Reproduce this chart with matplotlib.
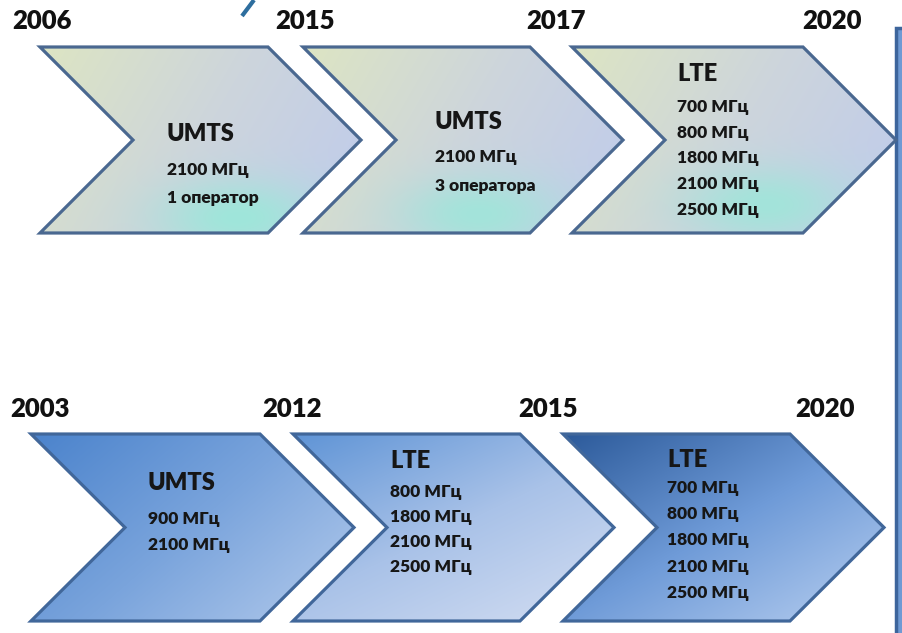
import matplotlib.pyplot as plt
import numpy as np
from matplotlib.patches import Polygon, Rectangle
from matplotlib.colors import to_rgb

plt.rcParams['font.family'] = ['Lato', 'DejaVu Sans']

W, H = 903, 633

# ---- content ----
years_top = ['2006', '2015', '2017', '2020']
years_bottom = ['2003', '2012', '2015', '2020']

titles_top = ['UMTS', 'UMTS', 'LTE']
lines_top = [['2100 МГц', '1 оператор'],
             ['2100 МГц', '3 оператора'],
             ['700 МГц', '800 МГц', '1800 МГц', '2100 МГц', '2500 МГц']]

titles_bottom = ['UMTS', 'LTE', 'LTE']
lines_bottom = [['900 МГц', '2100 МГц'],
                ['800 МГц', '1800 МГц', '2100 МГц', '2500 МГц'],
                ['700 МГц', '800 МГц', '1800 МГц', '2100 МГц', '2500 МГц']]

# ---- layout (pixels, y down) ----
top_row = dict(y0=47, y1=233, lefts=[40, 303, 572], rights=[268, 530, 803], depth=93)
bot_row = dict(y0=434, y1=621, lefts=[31, 293, 563], rights=[260, 520, 790], depth=94)

year_x_top = [42, 305, 556, 832]
year_x_bot = [40, 292, 548, 825]
year_y_top, year_y_bot = 21, 409

# text anchor: x, title y, first line y, line step
txt_top = [(167, 134, 170, 28.5), (435, 122, 157, 28.5), (677, 74, 107, 25.7)]
txt_bot = [(148, 483, 519, 26), (390, 461, 492, 25), (667, 460, 488, 26.2)]

edge_top = '#4a6890'
edge_bot = '#41679a'
WEIGHT = 'heavy'


def chevron(x0, x1, y0, y1, d):
    ym = (y0 + y1) / 2
    return [(x0, y0), (x1, y0), (x1 + d, ym), (x1, y1), (x0, y1), (x0 + d, ym)]


def gradient(w, h, c0, c1, mid=None, spot=None, spot_pos=(0.6, 0.9), spot_w=0.25, tx=0.75):
    xs = np.linspace(0, 1, w)
    ys = np.linspace(0, 1, h)
    X, Y = np.meshgrid(xs, ys)
    t = np.clip(tx * X + (1 - tx) * Y, 0, 1)
    stops = [c0, mid, c1] if mid else [c0, c1]
    cols = np.array([to_rgb(c) for c in stops])
    pos = np.linspace(0, 1, len(stops))
    img = np.stack([np.interp(t, pos, cols[:, k]) for k in range(3)], axis=-1)
    if spot is not None:
        g = np.exp(-(((X - spot_pos[0]) / spot_w) ** 2 + ((Y - spot_pos[1]) / (spot_w * 0.8)) ** 2))[..., None]
        img = (1 - g) * img + g * np.array(to_rgb(spot))
    return img


def draw_row(ax, row, fills, edge):
    for i, (x0, x1) in enumerate(zip(row['lefts'], row['rights'])):
        pts = chevron(x0, x1, row['y0'], row['y1'], row['depth'])
        patch = Polygon(pts, closed=True, facecolor='none', edgecolor=edge, lw=2.3, zorder=3,
                        joinstyle='miter')
        ax.add_patch(patch)
        xa, xb = x0, x1 + row['depth']
        img = gradient(int(xb - xa), int(row['y1'] - row['y0']), **fills[i])
        im = ax.imshow(img, extent=(xa, xb, row['y1'], row['y0']), origin='upper',
                       aspect='auto', zorder=2, interpolation='bilinear')
        im.set_clip_path(patch)


def draw_text(ax, anchors, titles, lines):
    for (x, ty, ly, step), title, ls in zip(anchors, titles, lines):
        ax.text(x, ty, title, fontsize=17, fontweight=WEIGHT, color='#161616',
                ha='left', va='center', zorder=4)
        for k, s in enumerate(ls):
            ax.text(x, ly + k * step, s, fontsize=12.5, fontweight=WEIGHT, color='#161616',
                    ha='left', va='center', zorder=4)


fig = plt.figure(figsize=(W / 100, H / 100), dpi=100)
ax = fig.add_axes([0, 0, 1, 1])
ax.axis('off')

top_fills = [dict(c0='#dde5c3', mid='#cdd5dc', c1='#bfcbec', spot='#9fe6da', spot_pos=(0.62, 0.92)),
             dict(c0='#dde5c3', mid='#cdd5dc', c1='#bfcbec', spot='#a3e4da', spot_pos=(0.55, 0.9)),
             dict(c0='#dde5c3', mid='#cdd5dc', c1='#bfcbec', spot='#a3e4da', spot_pos=(0.6, 0.85))]
bot_fills = [dict(c0='#4b83cc', mid='#7aa4dc', c1='#b4cbec', tx=0.6),
             dict(c0='#5f94d6', mid='#a9c2e8', c1='#d4def2', tx=0.45),
             dict(c0='#2c5a9a', mid='#6f9bd8', c1='#b8cff0', tx=0.5)]

draw_row(ax, top_row, top_fills, edge_top)
draw_row(ax, bot_row, bot_fills, edge_bot)

draw_text(ax, txt_top, titles_top, lines_top)
draw_text(ax, txt_bot, titles_bottom, lines_bottom)

for x, s in zip(year_x_top, years_top):
    ax.text(x, year_y_top, s, fontsize=18.5, fontweight=WEIGHT, color='#111111',
            ha='center', va='center')
for x, s in zip(year_x_bot, years_bottom):
    ax.text(x, year_y_bot, s, fontsize=18.5, fontweight=WEIGHT, color='#111111',
            ha='center', va='center')

# box cut off at the right edge
ax.add_patch(Rectangle((896, 28), 30, 700, facecolor='#6f9ad4', edgecolor='#3d659c', lw=2.5))
# small stroke at the top
ax.plot([242, 254], [16, 0], color='#2e6e9e', lw=3, solid_capstyle='butt')

ax.set_xlim(0, W)
ax.set_ylim(H, 0)

fig.savefig('out.png', dpi=100, facecolor='white')
